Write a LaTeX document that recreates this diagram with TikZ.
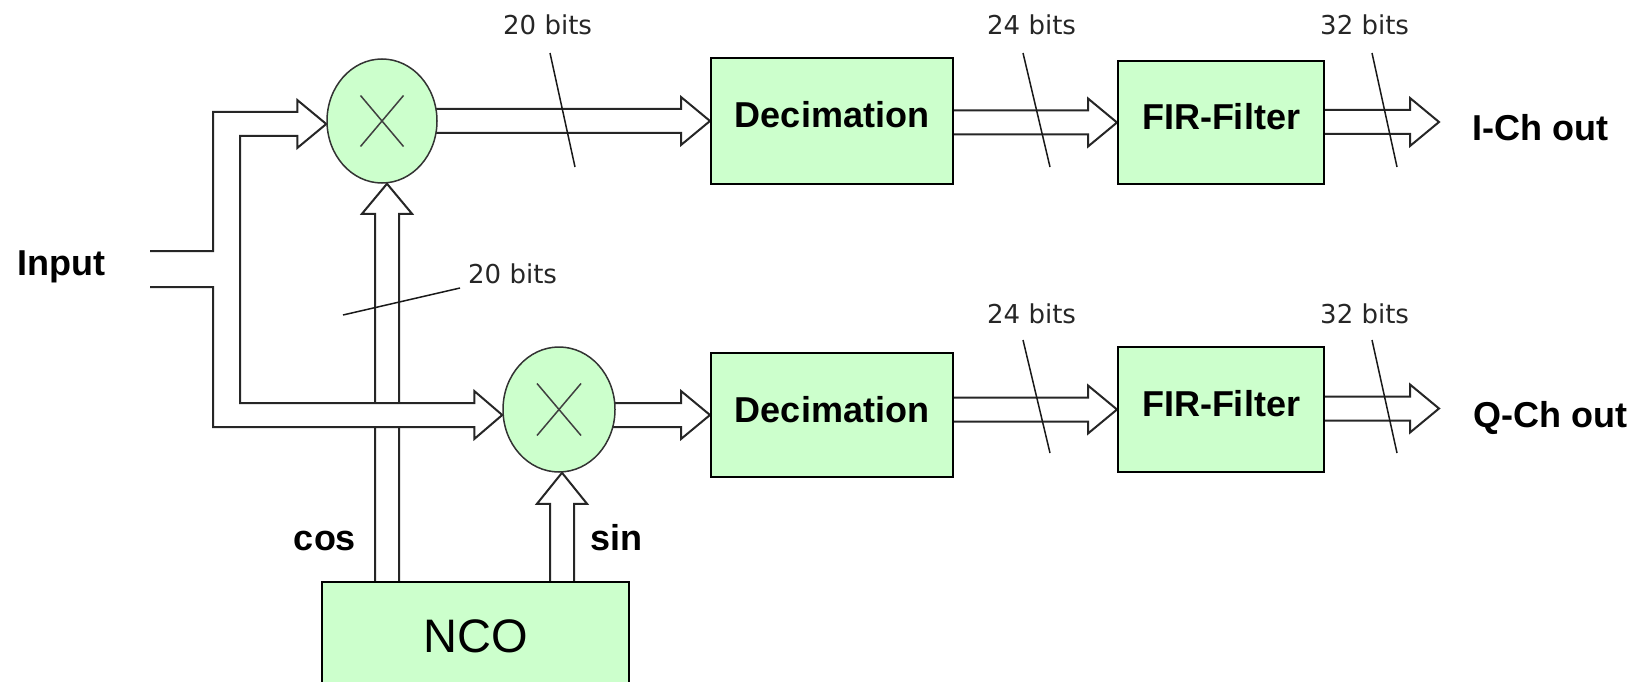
\documentclass[tikz,border=0pt]{standalone}
\usepackage{fontspec}
\setmainfont{Liberation Sans}
\newfontfamily\bitfont{DejaVu Sans}
\usetikzlibrary{shapes.geometric,calc,backgrounds}
\definecolor{mygreen}{RGB}{204,255,204}
\newcommand\hbus[2]{\filldraw[bus] ($(#1 |- #2)+(0,-12)$) -- ($(#2)+(-29,-12)$) -- ($(#2)+(-29,-24)$) -- (#2) -- ($(#2)+(-29,24)$) -- ($(#2)+(-29,12)$) -- ($(#1 |- #2)+(0,12)$);}
\begin{document}
\begin{tikzpicture}[x=1pt,y=-1pt,
  lbl/.style={font=\fontsize{36}{40}\selectfont\bfseries, inner sep=0pt},
  bitlbl/.style={font=\bitfont\fontsize{26}{30}\selectfont, inner sep=0pt, text=black!85},
  blk/.style={draw=black, line width=2pt, fill=mygreen, inner sep=0pt},
  blkb/.style={blk, font=\fontsize{36}{40}\selectfont\bfseries, text height=26pt, text depth=12pt},
  mult/.style={ellipse, draw=black!80, line width=1.5pt, fill=mygreen, minimum width=110pt, minimum height=124pt, inner sep=0pt},
  bus/.style={draw=black!85, line width=2pt, fill=white, line join=miter},
  slash/.style={draw=black!90, line width=1.5pt},
  xmark/.style={draw=black!75, line width=1.5pt}]
\useasboundingbox (0,0) rectangle (1646,682);

% blocks
\node[mult] (m1) at (382,121) {};
\node[mult, minimum width=112pt, minimum height=125pt] (m2) at (559,409.5) {};
\node[blkb, minimum width=242pt, minimum height=126pt] (dec1) at (832,121) {Decimation};
\node[blkb, minimum width=206pt, minimum height=123pt] (fir1) at (1221,122.5) {FIR-Filter};
\node[blkb, minimum width=242pt, minimum height=124pt] (dec2) at (832,415) {Decimation};
\node[blkb, minimum width=206pt, minimum height=125pt] (fir2) at (1221,409.5) {FIR-Filter};
\node[blk, font=\fontsize{47}{50}\selectfont, text height=34pt, text depth=0pt, minimum width=307pt, minimum height=106pt] (nco) at (475.5,635) {NCO};

% multiplier crosses
\draw[xmark] ($(m1)+(-21.5,-25.5)$) -- ($(m1)+(21.5,25.5)$) ($(m1)+(21.5,-25.5)$) -- ($(m1)+(-21.5,25.5)$);
\draw[xmark] ($(m2)+(-22,-26)$) -- ($(m2)+(22,26)$) ($(m2)+(22,-26)$) -- ($(m2)+(-22,26)$);

% labels
\node[lbl, anchor=base west] (input) at (17,275) {Input};
\node[lbl, anchor=base west] (ich) at (1472,141) {I-Ch out};
\node[lbl, anchor=base west] (qch) at (1473,427) {Q-Ch out};
\node[lbl, anchor=base] (cos) at (325,550) {cos};
\node[lbl, anchor=base] (sin) at (616,550) {sin};

\node[bitlbl, anchor=base west] (b1) at (503,35) {20 bits};
\node[bitlbl, anchor=base west] (b2) at (987,35) {24 bits};
\node[bitlbl, anchor=base west] (b3) at (1320,35) {32 bits};
\node[bitlbl, anchor=base west] (b4) at (987,323) {24 bits};
\node[bitlbl, anchor=base west] (b5) at (1320,323) {32 bits};
\node[bitlbl, anchor=base west] (b6) at (468,283) {20 bits};

% coordinates
\coordinate (inA) at (150,251);
\coordinate (inB) at (150,287);
\coordinate (xo) at (213,0);
\coordinate (xi) at (240,0);
\coordinate (T1) at ($(m1.west)+(0,3)$);
\coordinate (T2) at ($(m2.west)+(0,5.5)$);
\coordinate (T3) at ($(m1.south)+(5,0)$);
\coordinate (T4) at ($(m2.south)+(3,0)$);
\coordinate (o1) at (1439,122);
\coordinate (o2) at (1439,408.5);

\begin{scope}[on background layer]
  % cos
  \filldraw[bus] ($(T3 |- nco.north)+(-12,0)$) -- ($(T3)+(-12,30)$) -- ($(T3)+(-25,30)$) -- (T3) -- ($(T3)+(25,30)$) -- ($(T3)+(12,30)$) -- ($(T3 |- nco.north)+(12,0)$);
  % sin
  \filldraw[bus] ($(T4 |- nco.north)+(-12,0)$) -- ($(T4)+(-12,31)$) -- ($(T4)+(-25,31)$) -- (T4) -- ($(T4)+(25,31)$) -- ($(T4)+(12,31)$) -- ($(T4 |- nco.north)+(12,0)$);
  % input bus
  \filldraw[bus] (inA) -- (inA -| xo) -- ($(xo |- T1)+(0,-12)$) -- ($(T1)+(-29,-12)$) -- ($(T1)+(-29,-24)$) -- (T1) -- ($(T1)+(-29,24)$) -- ($(T1)+(-29,12)$) -- ($(xi |- T1)+(0,12)$) -- ($(xi |- T2)+(0,-12)$) -- ($(T2)+(-28,-12)$) -- ($(T2)+(-28,-24)$) -- (T2) -- ($(T2)+(-28,24)$) -- ($(T2)+(-28,12)$) -- ($(xo |- T2)+(0,12)$) -- (inB -| xo) -- (inB);
  % channel buses
  \hbus{m1.center}{dec1.west}
  \hbus{m2.center}{dec2.west}
  \hbus{dec1.east}{fir1.west}
  \hbus{dec2.east}{fir2.west}
  \hbus{fir1.east}{o1}
  \hbus{fir2.east}{o2}
\end{scope}

% width slashes
\draw[slash] (550,53) -- (575,167);
\draw[slash] (1023,53) -- (1050,167);
\draw[slash] (1372,53) -- (1397,167);
\draw[slash] (1023,340) -- (1050,453);
\draw[slash] (1372,340) -- (1397,453);
\draw[slash] (343,315) -- (460,288);
\end{tikzpicture}
\end{document}
